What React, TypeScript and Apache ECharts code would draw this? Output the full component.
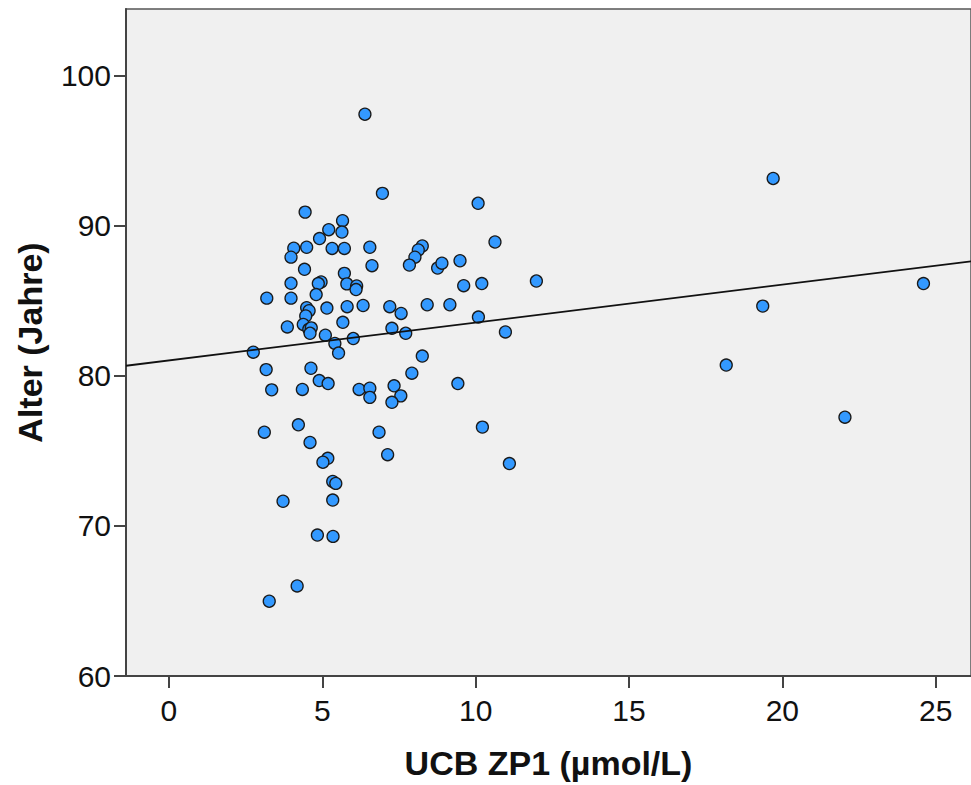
import React, { useEffect, useRef } from "react";
import * as echarts from "echarts";

// UCB ZP1 (µmol/L) values of each observation
const ucbZp1 = [
  6.96, 4.44, 5.66, 5.21, 5.64, 4.91, 4.07, 4.49, 5.32, 5.72,
  6.55, 3.98, 6.62, 4.42, 5.72, 4.96, 4.87, 3.98, 5.8, 6.12,
  6.1, 3.19, 3.98, 4.8, 4.49, 4.57, 5.15, 5.81, 6.33, 7.2,
  7.57, 4.46, 5.67, 3.86, 4.38, 4.56, 4.64, 4.6, 5.1, 6.01,
  7.27, 7.72, 5.41, 2.75, 10.08, 10.63, 8.26, 8.13, 8.02, 7.84,
  8.76, 8.9, 9.49, 9.61, 10.2, 11.98, 8.42, 9.16, 10.09, 10.97,
  5.53, 3.17, 4.63, 4.9, 5.19, 3.35, 4.35, 6.2, 6.55, 6.55,
  7.34, 7.56, 7.27, 7.92, 3.11, 4.22, 4.6, 5.18, 5.02, 6.85,
  7.13, 5.34, 5.44, 8.26, 9.42, 10.22, 11.1, 3.72, 5.34, 4.84,
  5.35, 4.18, 3.27, 6.39, 19.7, 24.6, 19.36, 18.17, 22.04,
];

// Alter (Jahre) of each observation
const alterJahre = [
  92.15, 90.9, 90.33, 89.73, 89.57, 89.14, 88.5, 88.56, 88.48, 88.48,
  88.56, 87.9, 87.33, 87.09, 86.82, 86.25, 86.14, 86.16, 86.12, 85.98,
  85.74, 85.17, 85.17, 85.41, 84.53, 84.33, 84.51, 84.6, 84.68, 84.6,
  84.15, 83.98, 83.56, 83.25, 83.42, 83.09, 83.19, 82.83, 82.7, 82.48,
  83.16, 82.83, 82.15, 81.57, 91.49, 88.91, 88.65, 88.38, 87.9, 87.37,
  87.17, 87.5, 87.66, 86.0, 86.14, 86.31, 84.73, 84.73, 83.91, 82.92,
  81.51, 80.41, 80.5, 79.68, 79.48, 79.06, 79.09, 79.09, 79.17, 78.56,
  79.33, 78.66, 78.23, 80.17, 76.24, 76.73, 75.56, 74.5, 74.24, 76.24,
  74.74, 72.96, 72.83, 81.31, 79.48, 76.58, 74.15, 71.64, 71.72, 69.39,
  69.3, 66.0, 64.98, 97.42, 93.14, 86.14, 84.64, 80.71, 77.24,
];

// Linear fit line
const fitIntercept = 81.02;
const fitSlope = 0.2523;

// Axis ranges and tick labels
const xRange = [-1.4, 26.15];
const yRange = [60, 104.43];
const xTicks = [0, 5, 10, 15, 20, 25];
const yTicks = [60, 70, 80, 90, 100];

const FONT = "'Liberation Sans', Arial, Helvetica, sans-serif";

export default function App() {
  const ref = useRef<HTMLDivElement>(null);

  useEffect(() => {
    if (!ref.current) return;
    const chart = echarts.init(ref.current, null, { renderer: "svg" });
    const points = ucbZp1.map((x, i) => [x, alterJahre[i]]);
    const fit = xRange.map((x) => [x, fitIntercept + fitSlope * x]);

    const axisCommon = {
      axisLine: { show: true, onZero: false, lineStyle: { color: "#444", width: 2 } },
      axisTick: { show: true, inside: false, length: 12, lineStyle: { color: "#444", width: 2 } },
      splitLine: { show: false },
    };

    chart.setOption({
      animation: false,
      backgroundColor: "#ffffff",
      grid: {
        left: 126,
        top: 9,
        width: 845,
        height: 672,
        show: true,
        backgroundColor: "#f0f0f0",
        borderColor: "#555",
        borderWidth: 1.5,
      },
      xAxis: {
        type: "value",
        min: xRange[0],
        max: xRange[1],
        ...axisCommon,
        axisTick: { ...axisCommon.axisTick, customValues: xTicks },
        axisLabel: {
          customValues: xTicks,
          margin: 19,
          color: "#111",
          fontSize: 30,
          fontFamily: FONT,
        },
        name: "UCB ZP1 (µmol/L)",
        nameLocation: "middle",
        nameGap: 70,
        nameTextStyle: { fontSize: 34, fontWeight: "bold", color: "#111", fontFamily: FONT },
      },
      yAxis: {
        type: "value",
        min: yRange[0],
        max: yRange[1],
        ...axisCommon,
        axisTick: { ...axisCommon.axisTick, customValues: yTicks },
        axisLabel: {
          customValues: yTicks,
          margin: 15,
          color: "#111",
          fontSize: 30,
          fontFamily: FONT,
        },
        name: "Alter (Jahre)",
        nameLocation: "middle",
        nameGap: 79,
        nameTextStyle: { fontSize: 34, fontWeight: "bold", color: "#111", fontFamily: FONT },
      },
      series: [
        {
          type: "scatter",
          data: points,
          symbol: "circle",
          symbolSize: 12,
          itemStyle: { color: "#3399ff", borderColor: "#1a1a1a", borderWidth: 1.3, opacity: 1 },
          z: 2,
        },
        {
          type: "line",
          data: fit,
          showSymbol: false,
          symbol: "none",
          lineStyle: { color: "#111", width: 1.8 },
          z: 3,
        },
      ],
    });

    return () => chart.dispose();
  }, []);

  return (
    <div
      ref={ref}
      style={{ position: "absolute", left: 0, top: 0, width: 971, height: 785, background: "#fff" }}
    />
  );
}
